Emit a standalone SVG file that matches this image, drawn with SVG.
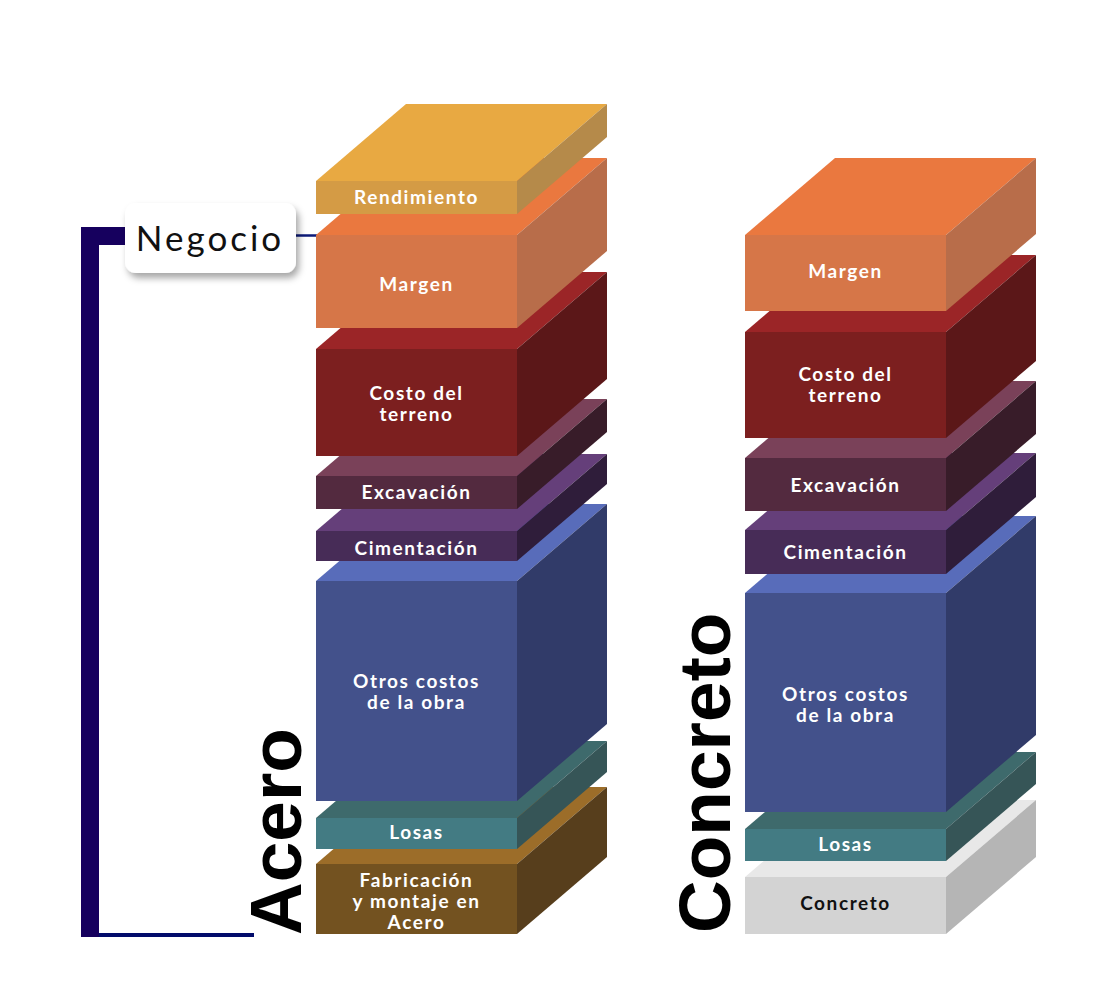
<svg xmlns="http://www.w3.org/2000/svg" width="1116" height="1000" viewBox="0 0 1116 1000">
<style>
.lbl{font-family:Lato,"Noto Sans","Liberation Sans",sans-serif;font-weight:700;font-size:19px;fill:#ffffff;letter-spacing:1.6px;text-anchor:middle}
.dark{fill:#111111}
.big{font-family:"Liberation Sans",Arial,sans-serif;font-weight:700;font-size:73px;fill:#000000}
.neg{font-family:Lato,"Noto Sans",sans-serif;font-weight:400;font-size:35px;fill:#111111;letter-spacing:3px}
</style>
<defs>
<filter id="sh" x="-20%" y="-30%" width="150%" height="170%">
<feDropShadow dx="3" dy="5" stdDeviation="3.5" flood-color="#000" flood-opacity="0.35"/>
</filter>
</defs>
<rect width="1116" height="1000" fill="#ffffff"/>

<!-- Connectors -->
<g id="connectors">
<polyline points="135,236 90,236 90,937" fill="none" stroke="#16005e" stroke-width="18" stroke-linejoin="miter"/>
<line x1="99" y1="935" x2="254" y2="935" stroke="#020b6b" stroke-width="4"/>
<line x1="294" y1="235.5" x2="318" y2="235.5" stroke="#0c1a78" stroke-width="2.5"/>
</g>

<!-- Left stack: Acero (drawn bottom to top) -->
<g id="acero-fabricacion">
<polygon points="316,864 406,787 607,787 517,864" fill="#9c6d29"/>
<polygon points="517,864 607,787 607,857 517,934" fill="#573e1c"/>
<rect x="316" y="864" width="201" height="70" fill="#735220"/>
<text class="lbl" x="416.5" y="887">Fabricación</text>
<text class="lbl" x="416.5" y="908">y montaje en</text>
<text class="lbl" x="416.5" y="929">Acero</text>
</g>
<g id="acero-losas">
<polygon points="316,818 406,741 607,741 517,818" fill="#3e6a6c"/>
<polygon points="517,818 607,741 607,772 517,849" fill="#365557"/>
<rect x="316" y="818" width="201" height="31" fill="#437b83"/>
<text class="lbl" x="416.5" y="839">Losas</text>
</g>
<g id="acero-otros">
<polygon points="316,581 406,504 607,504 517,581" fill="#586cba"/>
<polygon points="517,581 607,504 607,724 517,801" fill="#313b69"/>
<rect x="316" y="581" width="201" height="220" fill="#43518b"/>
<text class="lbl" x="416.5" y="688">Otros costos</text>
<text class="lbl" x="416.5" y="709">de la obra</text>
</g>
<g id="acero-cimentacion">
<polygon points="316,531 406,454 607,454 517,531" fill="#653f7a"/>
<polygon points="517,531 607,454 607,484 517,561" fill="#2f1d3a"/>
<rect x="316" y="531" width="201" height="30" fill="#472c57"/>
<text class="lbl" x="416.5" y="555">Cimentación</text>
</g>
<g id="acero-excavacion">
<polygon points="316,476 406,399 607,399 517,476" fill="#7a4159"/>
<polygon points="517,476 607,399 607,432 517,509" fill="#381c29"/>
<rect x="316" y="476" width="201" height="33" fill="#532a3f"/>
<text class="lbl" x="416.5" y="499">Excavación</text>
</g>
<g id="acero-costo">
<polygon points="316,349 406,272 607,272 517,349" fill="#9b2527"/>
<polygon points="517,349 607,272 607,379 517,456" fill="#5b1718"/>
<rect x="316" y="349" width="201" height="107" fill="#7c1f1f"/>
<text class="lbl" x="416.5" y="400">Costo del</text>
<text class="lbl" x="416.5" y="421">terreno</text>
</g>
<g id="acero-margen">
<polygon points="316,235 406,158 607,158 517,235" fill="#ea783f"/>
<polygon points="517,235 607,158 607,251 517,328" fill="#b86d4a"/>
<rect x="316" y="235" width="201" height="93" fill="#d67648"/>
<text class="lbl" x="416.5" y="291">Margen</text>
</g>
<g id="acero-rendimiento">
<polygon points="316,181 406,104 607,104 517,181" fill="#e8a942"/>
<polygon points="517,181 607,104 607,137 517,214" fill="#b58a4a"/>
<rect x="316" y="181" width="201" height="33" fill="#d49b45"/>
<text class="lbl" x="416.5" y="204">Rendimiento</text>
</g>

<!-- Right stack: Concreto -->
<g id="concreto-concreto">
<polygon points="745,877 835,800 1036,800 946,877" fill="#e8e8e8"/>
<polygon points="946,877 1036,800 1036,857 946,934" fill="#b5b5b5"/>
<rect x="745" y="877" width="201" height="57" fill="#d3d3d3"/>
<text class="lbl dark" x="845.5" y="910">Concreto</text>
</g>
<g id="concreto-losas">
<polygon points="745,829 835,752 1036,752 946,829" fill="#3e6a6c"/>
<polygon points="946,829 1036,752 1036,784 946,861" fill="#365557"/>
<rect x="745" y="829" width="201" height="32" fill="#437b83"/>
<text class="lbl" x="845.5" y="851">Losas</text>
</g>
<g id="concreto-otros">
<polygon points="745,593 835,516 1036,516 946,593" fill="#586cba"/>
<polygon points="946,593 1036,516 1036,735 946,812" fill="#313b69"/>
<rect x="745" y="593" width="201" height="219" fill="#43518b"/>
<text class="lbl" x="845.5" y="701">Otros costos</text>
<text class="lbl" x="845.5" y="722">de la obra</text>
</g>
<g id="concreto-cimentacion">
<polygon points="745,530 835,453 1036,453 946,530" fill="#653f7a"/>
<polygon points="946,530 1036,453 1036,497 946,574" fill="#2f1d3a"/>
<rect x="745" y="530" width="201" height="44" fill="#472c57"/>
<text class="lbl" x="845.5" y="559">Cimentación</text>
</g>
<g id="concreto-excavacion">
<polygon points="745,458 835,381 1036,381 946,458" fill="#7a4159"/>
<polygon points="946,458 1036,381 1036,434 946,511" fill="#381c29"/>
<rect x="745" y="458" width="201" height="53" fill="#532a3f"/>
<text class="lbl" x="845.5" y="492">Excavación</text>
</g>
<g id="concreto-costo">
<polygon points="745,332 835,255 1036,255 946,332" fill="#9b2527"/>
<polygon points="946,332 1036,255 1036,361 946,438" fill="#5b1718"/>
<rect x="745" y="332" width="201" height="106" fill="#7c1f1f"/>
<text class="lbl" x="845.5" y="381">Costo del</text>
<text class="lbl" x="845.5" y="402">terreno</text>
</g>
<g id="concreto-margen">
<polygon points="745,235 835,158 1036,158 946,235" fill="#ea783f"/>
<polygon points="946,235 1036,158 1036,234 946,311" fill="#b86d4a"/>
<rect x="745" y="235" width="201" height="76" fill="#d67648"/>
<text class="lbl" x="845.5" y="278">Margen</text>
</g>

<!-- Negocio node -->
<g id="negocio">
<rect x="125" y="203" width="171" height="70" rx="11" ry="11" fill="#ffffff" filter="url(#sh)"/>
<text class="neg" x="210" y="251" text-anchor="middle">Negocio</text>
</g>

<!-- Column titles -->
<g id="titulo-acero">
<text class="big" transform="translate(301,935) rotate(-90)" x="0" y="0">Acero</text>
</g>
<g id="titulo-concreto">
<text class="big" transform="translate(730,933) rotate(-90)" x="0" y="0">Concreto</text>
</g>
</svg>
